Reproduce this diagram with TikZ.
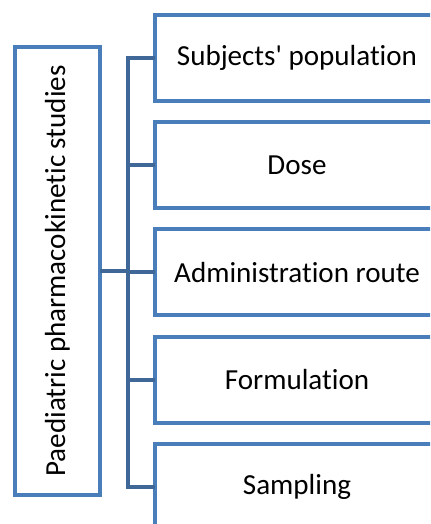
\documentclass[tikz,border=0pt]{standalone}
\usepackage{fontspec}
\setmainfont[Ligatures={NoCommon}]{Carlito}
\usetikzlibrary{positioning}
\definecolor{boxblue}{RGB}{74,126,187}
\definecolor{linkblue}{RGB}{63,104,152}
\tikzset{
  topicbox/.style={draw=boxblue, line width=3pt, fill=white, inner sep=0pt, outer sep=0pt,
    minimum width=213pt, minimum height=64.5pt, font=\fontsize{21.8}{26}\selectfont},
  rootbox/.style={draw=boxblue, line width=3pt, fill=white, inner sep=0pt, outer sep=0pt,
    minimum width=63.75pt, minimum height=336pt, font=\fontsize{21.8}{26}\selectfont},
  link/.style={draw=linkblue, line width=3pt}
}
\begin{document}
\begin{tikzpicture}[x=0.75pt,y=0.75pt]
        \useasboundingbox (0,0) rectangle (430,524);
        \clip (0,0) rectangle (430,524);
        \node[rootbox] (main) at (57.3,253) {\rotatebox{90}{Paediatric pharmacokinetic studies}};
        \node[topicbox] (b1) at (297,466) {Subjects\textquotesingle\ population};
        \node[topicbox] (b2) at (297,358.8) {Dose};
        \node[topicbox] (b3) at (297,251.6) {Administration route};
        \node[topicbox] (b4) at (297,144.4) {Formulation};
        \node[topicbox] (b5) at (297,37.2) {Sampling};
        \coordinate (hub) at (127.7,253);
        \draw[link] (main.east) -- (hub);
        \draw[link] (b1.west) -| (hub) |- (b5.west);
        \foreach \i in {2,3,4}
            \draw[link] (b\i.west -| hub) -- (b\i.west);
    \end{tikzpicture}
\end{document}
